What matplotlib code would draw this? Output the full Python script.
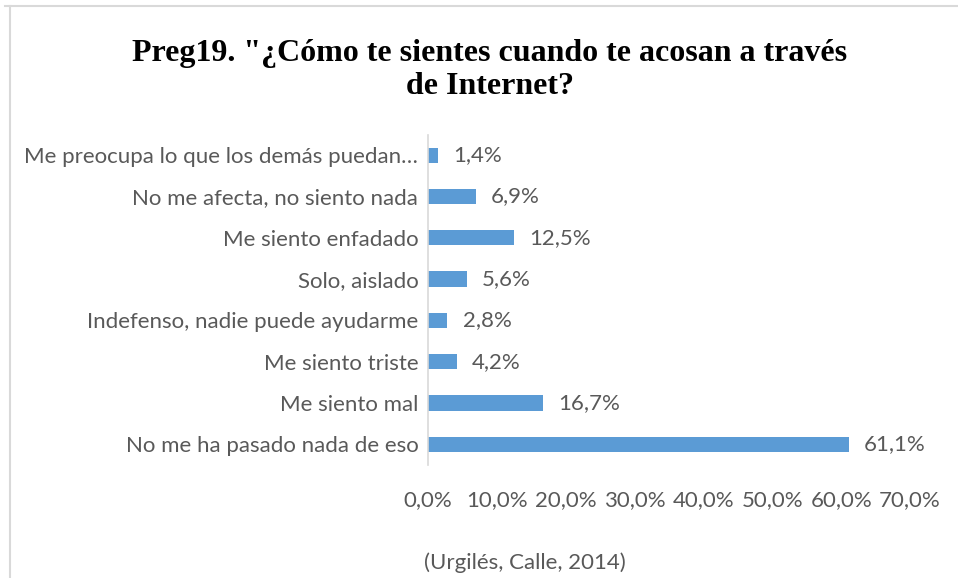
import matplotlib
matplotlib.use("Agg")
import matplotlib.pyplot as plt
from matplotlib.lines import Line2D

# categories listed bottom to top as in the chart
categories = [
    "No me ha pasado nada de eso",
    "Me siento mal",
    "Me siento triste",
    "Indefenso, nadie puede ayudarme",
    "Solo, aislado",
    "Me siento enfadado",
    "No me afecta, no siento nada",
    "Me preocupa lo que los demás puedan…",
]
values = [61.1, 16.7, 4.2, 2.8, 5.6, 12.5, 6.9, 1.4]
ticks = [0, 10, 20, 30, 40, 50, 60, 70]

title = 'Preg19. "¿Cómo te sientes cuando te acosan a través\nde Internet?'
source = "(Urgilés, Calle, 2014)"

bar_color = "#5b9bd5"
text_color = "#595959"
label_font = "Lato"
fs = 16

fig = plt.figure(figsize=(9.58, 5.78), dpi=100)
ax = fig.add_axes([428 / 958, 1 - 465 / 578, 482 / 958, 330.5 / 578])

y = list(range(len(categories)))
bars = ax.barh(y, values, height=0.37, color=bar_color)

# value labels to the right of each bar
for v, yy in zip(values, y):
    ax.annotate(f"{v:.1f}%".replace(".", ","), xy=(v, yy), xytext=(11, 0),
                textcoords="offset points", va="center", ha="left",
                fontsize=fs, color=text_color, family=label_font)

ax.set_xlim(0, 70)
ax.set_ylim(-0.5, len(categories) - 0.5)
ax.set_yticks(y)
ax.set_yticklabels(categories, fontsize=fs, color=text_color, family=label_font)
ax.set_xticks(ticks)
ax.set_xticklabels([f"{t:.1f}%".replace(".", ",") for t in ticks],
                   fontsize=fs, color=text_color, family=label_font)
ax.tick_params(axis="both", length=0)
ax.tick_params(axis="y", pad=7)
ax.tick_params(axis="x", pad=18)

for side in ["top", "right", "bottom"]:
    ax.spines[side].set_visible(False)
ax.spines["left"].set_color("#d9d9d9")
ax.spines["left"].set_linewidth(1.2)

fig.text(490 / 958, 1 - 70 / 578, title, ha="center", va="center",
         fontsize=23, fontweight="bold", family="Liberation Serif",
         linespacing=1.22)
fig.text(525 / 958, 1 - 563 / 578, source, ha="center", va="center",
         fontsize=fs, color=text_color, family=label_font)

# outer frame lines (top and left) of the cropped chart area
fig.add_artist(Line2D([5 / 958, 1], [1 - 6 / 578, 1 - 6 / 578],
                      transform=fig.transFigure, color="#d9d9d9", lw=1.5))
fig.add_artist(Line2D([10 / 958, 10 / 958], [0, 1 - 6 / 578],
                      transform=fig.transFigure, color="#d9d9d9", lw=1.5))

fig.savefig("out.png", dpi=100)
